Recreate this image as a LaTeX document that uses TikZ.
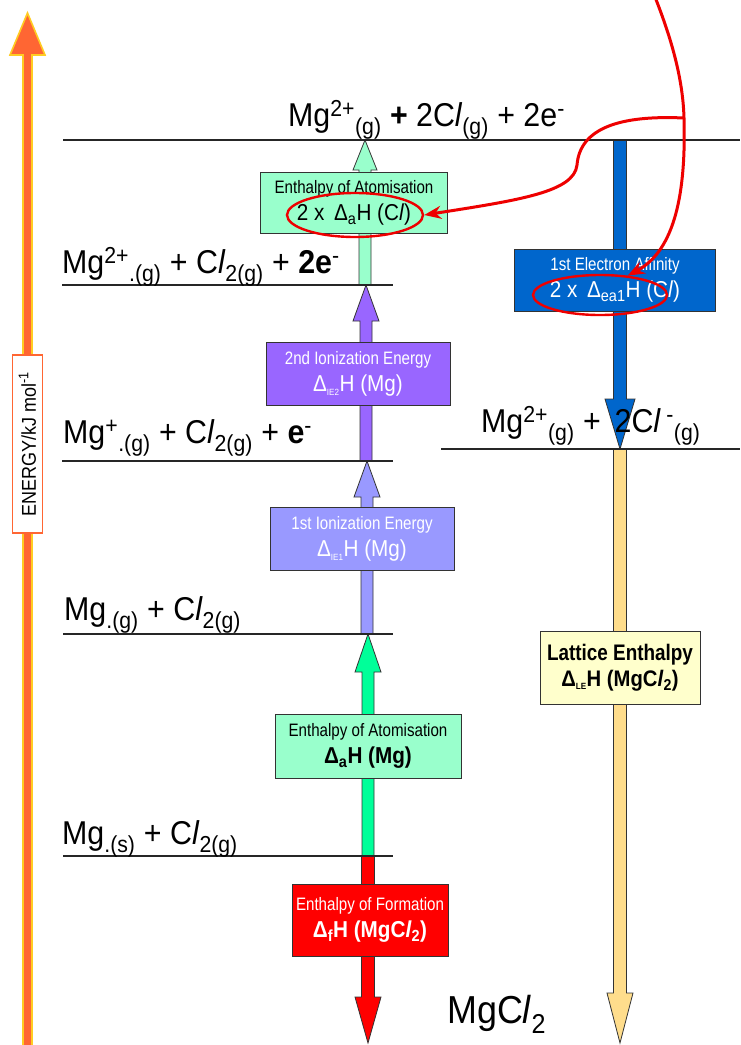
\documentclass[tikz,border=0pt]{standalone}
\usepackage{fontspec}
\setmainfont{Liberation Sans}
\newfontfamily\narrowfont[FakeStretch=0.84]{Liberation Sans}
\newfontfamily\midfont[FakeStretch=0.9]{Liberation Sans}
\newfontfamily\specfont[FakeStretch=0.92]{Liberation Sans}
\usetikzlibrary{arrows.meta,calc,shapes.geometric}

\newcommand\Cl{C\textit{l}}
\newcommand\lo[1]{\textsubscript{#1}}
\newcommand\hi[1]{\textsuperscript{#1}}
\newcommand\fsz[1]{\fontsize{#1}{#1}\selectfont}

\definecolor{edge}{HTML}{333333}
\definecolor{axisfill}{HTML}{FF6633}
\definecolor{axisrim}{HTML}{FFCC22}
\definecolor{mggreen}{HTML}{00FF99}
\definecolor{palegreen}{HTML}{99FFCC}
\definecolor{ieone}{HTML}{9999FF}
\definecolor{ietwo}{HTML}{9966FF}
\definecolor{eablue}{HTML}{0066CC}
\definecolor{latarrow}{HTML}{FFDD8C}
\definecolor{latbox}{HTML}{FFFFCC}
\definecolor{ringred}{HTML}{EE0000}

% vertical block arrow: colour, x, tail y, tip y, shaft half width, head half width, head length (signed)
\newcommand\blockarrow[7]{%
  \filldraw[fill=#1, draw=edge, line width=0.8pt]
    ({#2-#5},{#3}) -- ({#2-#5},{#4+(#7)}) -- ({#2-#6},{#4+(#7)}) -- ({#2},{#4})
    -- ({#2+#6},{#4+(#7)}) -- ({#2+#5},{#4+(#7)}) -- ({#2+#5},{#3}) -- cycle;}

% two-line box text: title, formula
\newcommand\boxtext[2]{{\narrowfont\fsz{18}#1}\\[5pt]{\midfont\fsz{23}#2}}

\tikzset{
  level/.style={line width=2pt, black!85},
  species/.style={anchor=base west, inner sep=0pt, font=\specfont\fsz{33}},
  stepbox/.style={draw=edge, line width=0.8pt, align=center, inner sep=2pt},
  ring/.style={ellipse, draw=ringred, line width=2.4pt, inner sep=0pt},
  pointer/.style={draw=ringred, line width=3pt, -{Stealth[length=17pt,width=13pt]}},
}

\begin{document}
\begin{tikzpicture}[x=1pt,y=-1pt]
\fill[white] (0,0) rectangle (740,1045);
\useasboundingbox (0,0) rectangle (740,1045);

% energy axis
\filldraw[fill=axisfill, draw=axisrim, line width=1.6pt]
  (23,1050) -- (23,55) -- (10,55) -- (27.5,13) -- (45,55) -- (32,55) -- (32,1050) -- cycle;
\node[draw=axisfill, line width=1.6pt, fill=white, rotate=90, minimum width=178pt,
      minimum height=30pt, inner sep=0pt, font=\midfont\fsz{20}] (axislabel) at (27.5,444)
  {ENERGY/kJ mol\hi{-1}};

% step arrows, left cycle
\blockarrow{mggreen}{368}{856}{634}{6}{13}{38}
\blockarrow{ieone}{367}{634}{461}{6}{13}{36}
\blockarrow{ietwo}{366}{461}{285}{6}{13}{36}
\blockarrow{palegreen}{365}{285}{140}{6}{12}{30}
\blockarrow{red}{368}{856}{1043}{6.5}{13}{-46}
% right cycle
\blockarrow{eablue}{620}{140}{449}{6.5}{15}{-50}
\blockarrow{latarrow}{620}{449}{1043}{6.5}{13}{-50}

% energy levels
\coordinate (t0) at (63,140);  \coordinate (t1) at (740,140);
\coordinate (a0) at (62,285);  \coordinate (a1) at (393,285);
\coordinate (b0) at (62,461);  \coordinate (b1) at (393,461);
\coordinate (c0) at (63,634);  \coordinate (c1) at (393,634);
\coordinate (d0) at (63,856);  \coordinate (d1) at (393,856);
\coordinate (r0) at (441,449); \coordinate (r1) at (740,449);
\foreach \p/\q in {t0/t1,a0/a1,b0/b1,c0/c1,d0/d1,r0/r1} \draw[level] (\p) -- (\q);

% species on each level
\node[species] (sTop) at (288,126) {Mg\hi{2+}\lo{(g)} \textbf{+} 2\Cl\lo{(g)} + 2e\hi{-}};
\node[species] (sA) at (62,273) {Mg\hi{2+}\lo{.(g)} + \Cl\lo{2(g)} + \textbf{2e}\hi{-}};
\node[species] (sB) at (63,443) {Mg\hi{+}\lo{.(g)} + \Cl\lo{2(g)} + \textbf{e}\hi{-}};
\node[species] (sC) at (64,620) {Mg\lo{.(g)} + \Cl\lo{2(g)}};
\node[species] (sD) at (62,844) {Mg\lo{.(s)} + \Cl\lo{2(g)}};
\node[species] (sR) at (481,432) {Mg\hi{2+}\lo{(g)} + \,2\Cl\,\hi{-}\lo{(g)}};
\node[species, font=\specfont\fsz{39}] (sF) at (447,1023) {MgC\textit{l}\lo{2}};

% step boxes
\node[stepbox, fill=palegreen, minimum width=187pt, minimum height=61pt] (atCl) at (354,203)
  {\boxtext{Enthalpy of Atomisation}{2 x\, Δ\lo{a}H (\Cl)}};
\node[stepbox, fill=ietwo, text=white, minimum width=184pt, minimum height=63pt] (ie2) at (358,374)
  {\boxtext{2nd Ionization Energy}{Δ\lo{\fsz{9}IE2}H (Mg)}};
\node[stepbox, fill=ieone, text=white, minimum width=184pt, minimum height=63pt] (ie1) at (362,539)
  {\boxtext{1st Ionization Energy}{Δ\lo{\fsz{9}IE1}H (Mg)}};
\node[stepbox, fill=palegreen, minimum width=186pt, minimum height=64pt] (atMg) at (368,746)
  {\boxtext{Enthalpy of Atomisation}{\textbf{Δ\lo{a}H (Mg)}}};
\node[stepbox, fill=red, text=white, minimum width=156pt, minimum height=72pt] (form) at (370,920)
  {\boxtext{Enthalpy of Formation}{\textbf{Δ\lo{f}H (Mg\Cl\lo{2})}}};
\node[stepbox, fill=eablue, text=white, minimum width=201pt, minimum height=62pt] (ea) at (615,280)
  {\boxtext{1st Electron Affinity}{2 x\, Δ\lo{ea1}H (\Cl)}};
\node[stepbox, fill=latbox, minimum width=160pt, minimum height=73pt] (lat) at (620,668)
  {{\narrowfont\fsz{22.5}\textbf{Lattice Enthalpy}}\\[4pt]{\midfont\fsz{22.5}\textbf{Δ\lo{\fsz{9}LE}H (Mg\Cl\lo{2})}}};

% highlight rings and pointers
\node[ring, minimum width=136pt, minimum height=44pt] (ringA) at (355,215) {};
\node[ring, minimum width=134pt, minimum height=40pt] (ringB) at (600,295) {};
\coordinate (src) at (655,-3);
\coordinate (fork) at (684,118);
\draw[draw=ringred, line width=3pt] (src) .. controls (672,40) and (683,80) .. (fork);
\draw[pointer] (fork) .. controls (686,190) and (676,250) .. (ringB.35);
\draw[pointer] (fork) .. controls (620,115) and (580,128) .. (577,165)
  .. controls (574,192) and (520,200) .. (ringA.east);
\end{tikzpicture}
\end{document}
